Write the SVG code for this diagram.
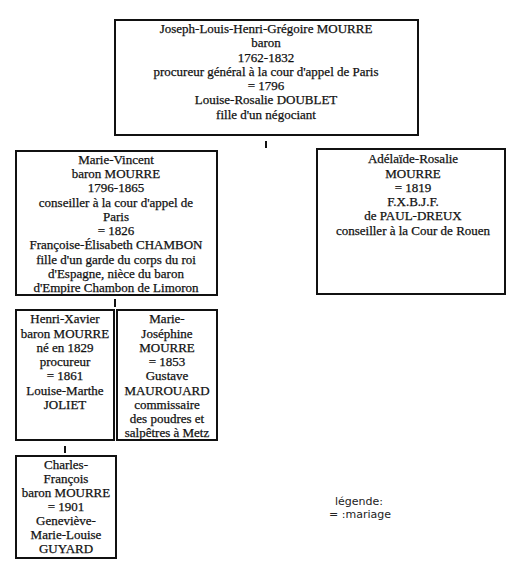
<svg xmlns="http://www.w3.org/2000/svg" width="516" height="567" viewBox="0 0 516 567">
<style>
.box{fill:#fff;stroke:#111;stroke-width:2}
.t{font-family:"Liberation Serif","Times New Roman",serif;font-size:13px;fill:#111;stroke:#111;stroke-width:0.25;text-anchor:middle}
.lg{font-family:"DejaVu Sans",Verdana,sans-serif;font-size:11px;fill:#222;text-anchor:middle}
.tick{stroke:#111;stroke-width:2}
</style>
<rect width="516" height="567" fill="#fff"/>
<g id="connectors">
<line class="tick" x1="266" y1="141" x2="266" y2="148"/>
<line class="tick" x1="115" y1="299" x2="115" y2="307"/>
<line class="tick" x1="65" y1="446" x2="65" y2="453"/>
</g>
<g id="n-joseph">
<rect class="box" x="115" y="20" width="303" height="115"/>
<text class="t" x="266" y="33">Joseph-Louis-Henri-Grégoire MOURRE</text>
<text class="t" x="266" y="47">baron</text>
<text class="t" x="266" y="62">1762-1832</text>
<text class="t" x="266" y="76">procureur général à la cour d'appel de Paris</text>
<text class="t" x="266" y="90">= 1796</text>
<text class="t" x="266" y="104">Louise-Rosalie DOUBLET</text>
<text class="t" x="266" y="119">fille d'un négociant</text>
</g>
<g id="n-marie-vincent">
<rect class="box" x="16" y="151" width="201" height="144"/>
<text class="t" x="116" y="164">Marie-Vincent</text>
<text class="t" x="116" y="178">baron MOURRE</text>
<text class="t" x="116" y="192">1796-1865</text>
<text class="t" x="116" y="207">conseiller à la cour d'appel de</text>
<text class="t" x="116" y="221">Paris</text>
<text class="t" x="116" y="235">= 1826</text>
<text class="t" x="116" y="249">Françoise-Élisabeth CHAMBON</text>
<text class="t" x="116" y="264">fille d'un garde du corps du roi</text>
<text class="t" x="116" y="278">d'Espagne, nièce du baron</text>
<text class="t" x="116" y="292">d'Empire Chambon de Limoron</text>
</g>
<g id="n-adelaide">
<rect class="box" x="317" y="149" width="188" height="145"/>
<text class="t" x="413" y="163">Adélaïde-Rosalie</text>
<text class="t" x="413" y="178">MOURRE</text>
<text class="t" x="413" y="192">= 1819</text>
<text class="t" x="413" y="206">F.X.B.J.F.</text>
<text class="t" x="413" y="220">de  PAUL-DREUX</text>
<text class="t" x="413" y="235">conseiller à la Cour de Rouen</text>
</g>
<g id="n-henri-xavier">
<rect class="box" x="16" y="310" width="98" height="130"/>
<text class="t" x="65" y="323">Henri-Xavier</text>
<text class="t" x="65" y="338">baron MOURRE</text>
<text class="t" x="65" y="352">né en 1829</text>
<text class="t" x="65" y="366">procureur</text>
<text class="t" x="65" y="380">= 1861</text>
<text class="t" x="65" y="395">Louise-Marthe</text>
<text class="t" x="65" y="409">JOLIET</text>
</g>
<g id="n-marie-josephine">
<rect class="box" x="117" y="310" width="100" height="130"/>
<text class="t" x="167" y="323">Marie-</text>
<text class="t" x="167" y="338">Joséphine</text>
<text class="t" x="167" y="352">MOURRE</text>
<text class="t" x="167" y="366">= 1853</text>
<text class="t" x="167" y="380">Gustave</text>
<text class="t" x="167" y="395">MAUROUARD</text>
<text class="t" x="167" y="409">commissaire</text>
<text class="t" x="167" y="423">des poudres et</text>
<text class="t" x="167" y="437">salpêtres à Metz</text>
</g>
<g id="n-charles">
<rect class="box" x="16" y="456" width="100" height="102"/>
<text class="t" x="66" y="469">Charles-</text>
<text class="t" x="66" y="483">François</text>
<text class="t" x="66" y="497">baron MOURRE</text>
<text class="t" x="66" y="511">= 1901</text>
<text class="t" x="66" y="525">Geneviève-</text>
<text class="t" x="66" y="539">Marie-Louise</text>
<text class="t" x="66" y="553">GUYARD</text>
</g>
<g id="legend">
<text class="lg" x="359" y="505">légende:</text>
<text class="lg" x="360" y="518">= :mariage</text>
</g>
</svg>
